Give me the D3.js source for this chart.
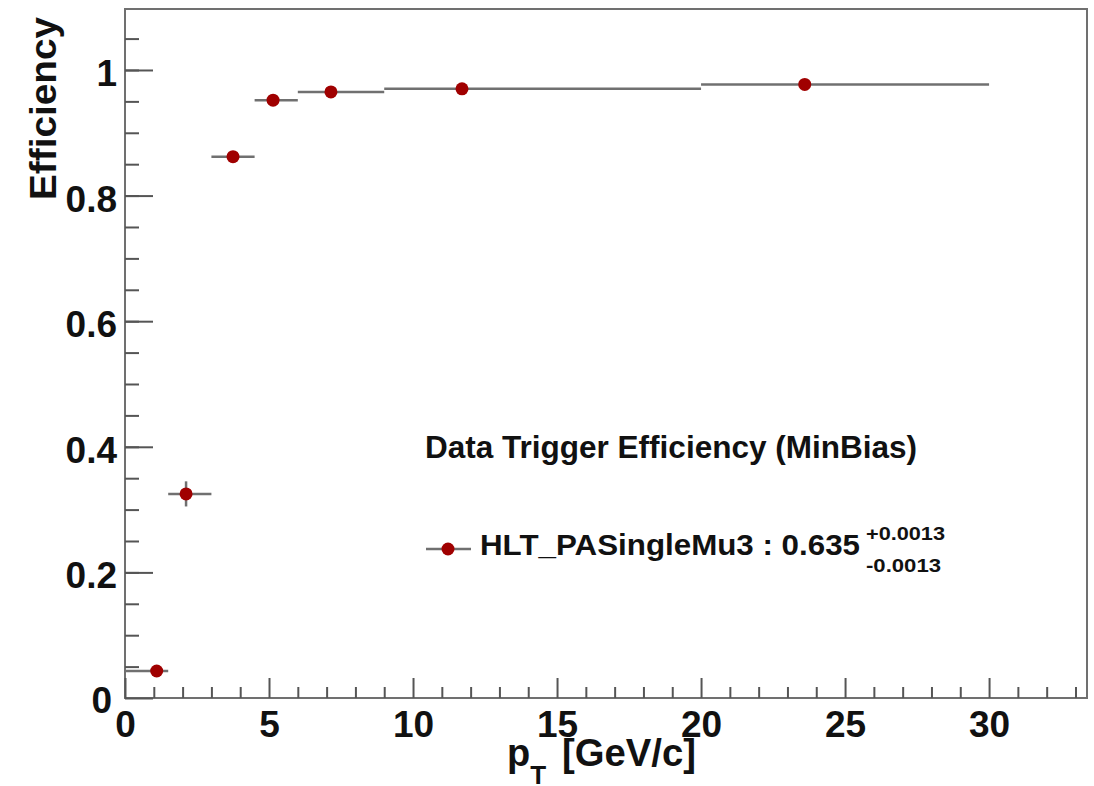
<!DOCTYPE html>
<html>
<head>
<meta charset="utf-8">
<script src="https://cdn.jsdelivr.net/npm/d3@7"></script>
<style>
    body { margin: 0; background: #fff; }
    svg text { font-family: "Liberation Sans", Arial, sans-serif; font-weight: bold; fill: #111; }
</style>
</head>
<body>
<svg id="chart" width="1094" height="786"></svg>
<script>
// bins in pT [GeV/c] and measured efficiency
const binLow = [0, 1.5, 3, 4.5, 6, 9, 20];
const binHigh = [1.5, 3, 4.5, 6, 9, 20, 30];
const ptMean = [1.1, 2.12, 3.75, 5.14, 7.15, 11.7, 23.6];
const efficiency = [0.043, 0.325, 0.862, 0.952, 0.965, 0.970, 0.977];
const effError = [0.004, 0.02, 0.004, 0.003, 0.002, 0.002, 0.002];

const xMajor = [0, 5, 10, 15, 20, 25, 30];
const xMinor = d3.range(1, 34);
const yMajor = [0, 0.2, 0.4, 0.6, 0.8, 1];
const yMinor = d3.range(0.05, 1.09, 0.05);

const legendTitle = 'Data Trigger Efficiency (MinBias)';
const legendEntry = 'HLT_PASingleMu3 : 0.635';
const legendUp = '+0.0013';
const legendDown = '-0.0013';

const frame = {left: 125, right: 1087, top: 9, bottom: 698};
const lineGray = '#707070';
const markerRed = '#a00000';

const svg = d3.select('#chart');

const x = d3.scaleLinear().domain([0, 33.4]).range([frame.left, frame.right]);
const y = d3.scaleLinear().domain([0, 1.0971]).range([frame.bottom, frame.top]);

// frame
svg.append('rect')
    .attr('x', frame.left).attr('y', frame.top)
    .attr('width', frame.right - frame.left)
    .attr('height', frame.bottom - frame.top)
    .attr('fill', 'none')
    .attr('stroke', lineGray)
    .attr('stroke-width', 2);

// x axis: minor then major
const gxMinor = svg.append('g')
    .attr('transform', `translate(0,${frame.bottom})`)
    .call(d3.axisBottom(x).tickValues(xMinor.filter(d => d % 5 !== 0)).tickSize(-11).tickFormat(''));
const gx = svg.append('g')
    .attr('transform', `translate(0,${frame.bottom})`)
    .call(d3.axisBottom(x).tickValues(xMajor).tickSize(-20).tickPadding(13).tickFormat(d3.format('d')));

// y axis: minor then major
const gyMinor = svg.append('g')
    .attr('transform', `translate(${frame.left},0)`)
    .call(d3.axisLeft(y).tickValues(yMinor).tickSize(-14).tickFormat(''));
const gy = svg.append('g')
    .attr('transform', `translate(${frame.left},0)`)
    .call(d3.axisLeft(y).tickValues(yMajor).tickSize(-28).tickPadding(8).tickFormat(d => +d.toFixed(1)));

for (let g of [gxMinor, gx, gyMinor, gy]) {
    g.select('.domain').remove();
    g.selectAll('line').attr('stroke', '#555').attr('stroke-width', 2);
}
gx.selectAll('text').style('font-size', '37px').attr('fill', '#111');
gy.selectAll('text').style('font-size', '37px').attr('fill', '#111').attr('dy', '0.42em');
// ROOT puts the y "0" a bit lower and further left
gy.selectAll('.tick').filter(d => d === 0).select('text').attr('x', -13).attr('dy', '0.38em');

// axis titles
svg.append('text')
    .attr('transform', 'translate(56,17) rotate(-90)')
    .attr('text-anchor', 'end')
    .style('font-size', '37px')
    .attr('textLength', 183)
    .attr('lengthAdjust', 'spacingAndGlyphs')
    .text('Efficiency');

const xt = svg.append('text')
    .attr('x', 507).attr('y', 766)
    .style('font-size', '38px');
xt.append('tspan').text('p');
xt.append('tspan').attr('dy', 18).style('font-size', '26px').text('T');
svg.append('text')
    .attr('x', 562).attr('y', 766)
    .style('font-size', '38px')
    .attr('textLength', 134)
    .attr('lengthAdjust', 'spacingAndGlyphs')
    .text('[GeV/c]');

// data: horizontal bin bars, vertical errors, markers
const idx = d3.range(efficiency.length);
const pts = svg.append('g');

pts.selectAll('.hbar')
    .data(idx).enter()
    .append('line')
    .attr('x1', i => x(binLow[i]))
    .attr('x2', i => x(binHigh[i]))
    .attr('y1', i => y(efficiency[i]))
    .attr('y2', i => y(efficiency[i]))
    .attr('stroke', lineGray)
    .attr('stroke-width', 2.5);

pts.selectAll('.vbar')
    .data(idx).enter()
    .append('line')
    .attr('x1', i => x(ptMean[i]))
    .attr('x2', i => x(ptMean[i]))
    .attr('y1', i => y(efficiency[i] - effError[i]))
    .attr('y2', i => y(efficiency[i] + effError[i]))
    .attr('stroke', lineGray)
    .attr('stroke-width', 2.5);

pts.selectAll('circle')
    .data(idx).enter()
    .append('circle')
    .attr('cx', i => x(ptMean[i]))
    .attr('cy', i => y(efficiency[i]))
    .attr('r', 6.5)
    .attr('fill', markerRed);

// legend
svg.append('text')
    .attr('x', 425).attr('y', 458)
    .style('font-size', '31px')
    .attr('textLength', 492)
    .attr('lengthAdjust', 'spacingAndGlyphs')
    .text(legendTitle);

svg.append('line')
    .attr('x1', 426).attr('x2', 471)
    .attr('y1', 549).attr('y2', 549)
    .attr('stroke', lineGray)
    .attr('stroke-width', 2.5);
svg.append('circle')
    .attr('cx', 448).attr('cy', 549).attr('r', 6.5)
    .attr('fill', markerRed);

svg.append('text')
    .attr('x', 480).attr('y', 555)
    .style('font-size', '30px')
    .attr('textLength', 380)
    .attr('lengthAdjust', 'spacingAndGlyphs')
    .text(legendEntry);
svg.append('text')
    .attr('x', 866).attr('y', 540)
    .style('font-size', '18px')
    .attr('textLength', 79)
    .attr('lengthAdjust', 'spacingAndGlyphs')
    .text(legendUp);
svg.append('text')
    .attr('x', 866).attr('y', 572)
    .style('font-size', '18px')
    .attr('textLength', 75)
    .attr('lengthAdjust', 'spacingAndGlyphs')
    .text(legendDown);
</script>
</body>
</html>
